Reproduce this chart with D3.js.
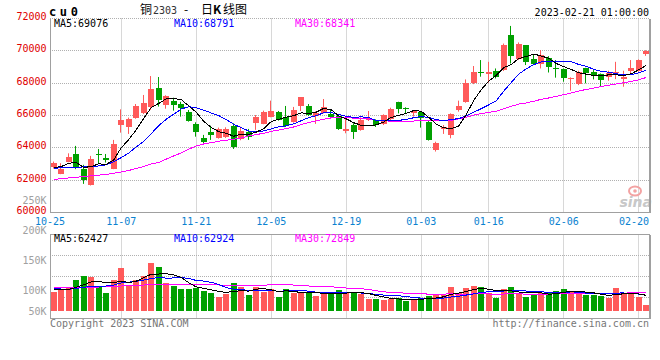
<!DOCTYPE html>
<meta charset="utf-8">
<script src="https://d3js.org/d3.v7.min.js"></script>
<style>
  body { margin: 0; background: #fff; }
  text { font-family: "DejaVu Sans Mono", monospace; font-size: 10px; }
  .grid { stroke: #b0b0b0; stroke-dasharray: 1,1; fill: none; }
  .frame { stroke: #a0a0a0; fill: none; shape-rendering: crispEdges; }
  .ma { fill: none; stroke-width: 1; shape-rendering: crispEdges; }
</style>
<body>
<script>
// trading days shown (10-25 .. 02-21)
var dates = ["10-25","10-26","10-27","10-28","10-31","11-01","11-02","11-03","11-04",
  "11-07","11-08","11-09","11-10","11-11","11-14","11-15","11-16","11-17","11-18",
  "11-21","11-22","11-23","11-24","11-25","11-28","11-29","11-30","12-01","12-02",
  "12-05","12-06","12-07","12-08","12-09","12-12","12-13","12-14","12-15","12-16",
  "12-19","12-20","12-21","12-22","12-23","12-26","12-27","12-28","12-29","12-30",
  "01-03","01-04","01-05","01-06","01-09","01-10","01-11","01-12","01-13",
  "01-16","01-17","01-18","01-19","01-20","01-30","01-31","02-01","02-02","02-03",
  "02-06","02-07","02-08","02-09","02-10","02-13","02-14","02-15","02-16","02-17",
  "02-20","02-21"];

var open = [62840,62390,63130,63620,62680,61710,63620,63380,62700,65410,
  65310,65870,66180,66500,67700,66630,66920,66710,66240,65460,
  64630,65000,64630,64650,65370,64530,65000,65560,65480,65930,
  66220,65890,65600,66590,66590,65970,66180,66090,65970,65060,
  65410,65110,65720,65720,65480,65800,66850,66460,66180,66200,
  65620,63870,65150,64800,66340,66850,67990,68690,68540,68770,
  68810,70970,69490,70350,69490,69180,69570,68910,68850,68230,
  67920,68950,68710,68540,68360,68600,68250,68770,68750,69800];
var high = [63150,63050,63660,64120,62950,63500,63930,63620,64490,66380,
  65870,66710,67270,68440,68380,67250,67100,66850,66340,65580,
  64800,65370,65250,65270,65520,65310,65170,66030,66300,66920,
  66280,66590,66530,67140,66710,66260,67020,66340,66030,65890,
  65520,65890,66280,65760,66070,66480,66850,66510,66340,66280,
  65720,64380,65410,66130,66920,68230,69060,69430,69320,68910,
  70450,71540,70520,70350,69780,70040,69670,69430,68910,68360,
  68770,68950,68810,68600,68770,69320,68770,69430,69470,70040];
var low = [62720,62370,63110,62680,61770,61670,63010,63090,62680,64940,
  64860,65800,66090,66340,66550,66420,66300,65930,65620,64690,
  64280,64490,64570,64610,63930,64470,64490,65110,65460,65890,
  65680,65290,65560,66280,65970,65480,66130,65890,65110,64900,
  64550,65060,65660,65290,65410,65720,66130,66090,65930,65250,
  64450,63770,64860,64590,66240,66790,67940,68400,68030,68290,
  68750,69220,69430,69120,69120,68910,68660,68340,68090,67530,
  67880,67990,68230,67820,68150,68250,67780,68560,68710,69690];
var close = [63050,62680,63440,62800,61980,63290,63540,63270,64220,65720,
  65800,66570,66770,67640,66960,67200,66650,66480,65680,64980,
  64390,64800,65150,65170,64080,65040,64690,65890,66240,66280,
  65720,65370,66340,67120,66030,66180,66530,65930,65170,65150,
  64980,65740,65830,65410,66030,66400,66400,66400,66300,65830,
  64490,64320,65270,66070,66590,68030,68710,68600,68690,68400,
  70390,69690,70450,69320,69180,69740,69010,68850,68340,68290,
  68710,68600,68440,68190,68640,68710,68400,68950,69430,70020];
var volume = [78300,87800,97200,125600,143100,137700,95900,72900,125600,175500,
  105300,125600,143100,195800,179600,112100,102600,89100,89100,94500,
  82400,74300,58100,67500,113400,98600,64800,98600,78300,89100,
  58100,89100,71600,75600,75600,62100,71600,67500,85100,77000,
  74300,67500,48600,48600,44600,47300,54000,40500,44600,51300,
  62100,64800,64800,97200,74300,93200,102600,97200,71600,52700,
  89100,97200,74300,56700,64800,74300,71600,81000,89100,77000,
  71600,64800,64800,62100,52700,93200,74300,67500,58100,24300];

// moving-average values before a full window exists
var ma5Head = [62780,62840,63050,63090];
var ma10Head = [62740,62760,62780,62800,62820,62840,62880,62950,63150];
var ma30Head = [62050,62090,62140,62180,62230,62270,62310,62350,62430,62510,
  62600,62720,62840,63010,63090,63300,63500,63690,63910,64120,
  64240,64320,64410,64470,64530,64610,64740,64820,64900];
var volMa5Head = [85100,86400,87800,95900];
var volMa10Head = [91800,89100,87800,91800,95900,101300,101300,101300,105300];
var volMa30Head = [95900,95900,94500,94500,94500,95900,97200,98600,99900,101300,
  102600,104000,105300,106700,108000,108000,108000,108000,108000,106700,
  106700,106700,105300,104000,104000,104000,104000,104000,104000];

var priceTicks = [72000,70000,68000,66000,64000,62000,60000];
var volTicks = [250000,200000,150000,100000,50000];
var volTickText = ["250K","200K","150K","100K","50K"];
var dateTicks = ["10-25","11-07","11-21","12-05","12-19","01-03","01-16","02-06","02-20"];

var RED = "#ff5a5a", GREEN = "#00a000";
var L = 50, R = 649, mTop = 18.5, mBot = 212.5, vTop = 234.5, vBot = 318.5;

var svg = d3.select("body").append("svg")
  .attr("width", 660).attr("height", 360).style("display", "block");

var x = d3.scaleBand().domain(d3.range(dates.length)).range([L, 650]);
function xc(i) { return x(i) + x.bandwidth() / 2; }
var y = d3.scaleLinear().domain([60000, 72000]).range([mBot, mTop]);
var yv = d3.scaleLinear().domain([0, 310000]).range([311, 234.5]);
var yvLabel = d3.scaleLinear().domain([100000, 150000]).range([294, 264]);

function sma(vals, n, head) {
  return vals.map(function(v, i) {
    return i < n - 1 ? head[i] : d3.mean(vals.slice(i - n + 1, i + 1));
  });
}
function crisp(v) { return Math.floor(v) + 0.5; }

var tickIdx = dateTicks.map(function(d) { return dates.indexOf(d); });

// ---------- grid ----------
var g = svg.append("g");
priceTicks.slice(0, -1).forEach(function(v) {
  g.append("line").attr("class", "grid")
    .attr("x1", L).attr("x2", R).attr("y1", crisp(y(v))).attr("y2", crisp(y(v)));
});
[1, 2, 3].forEach(function(k) {
  var yy = crisp(vTop + (vBot - vTop) * k / 4);
  g.append("line").attr("class", "grid").attr("x1", L).attr("x2", R).attr("y1", yy).attr("y2", yy);
});
tickIdx.slice(1).forEach(function(i) {
  var xx = crisp(xc(i));
  if (xx >= R) return;
  g.append("line").attr("class", "grid").attr("x1", xx).attr("x2", xx).attr("y1", mTop).attr("y2", mBot);
  g.append("line").attr("class", "grid").attr("x1", xx).attr("x2", xx).attr("y1", vTop).attr("y2", vBot);
});

// sina watermark
var wm = svg.append("g");
wm.append("ellipse").attr("cx", 635).attr("cy", 191).attr("rx", 6).attr("ry", 4.5)
  .attr("fill", "none").attr("stroke", "#f3a3a3").attr("stroke-width", 2);
wm.append("circle").attr("cx", 635).attr("cy", 191).attr("r", 1.8).attr("fill", "#f3a3a3");
wm.append("text").attr("x", 652).attr("y", 207).attr("text-anchor", "end")
  .style("font-family", "'DejaVu Sans', sans-serif").style("font-size", "14px")
  .style("font-style", "italic").style("font-weight", "bold")
  .attr("fill", "#c8c8c8").text("sina");

// ---------- candles ----------
var idx = d3.range(dates.length);
var cg = svg.append("g");
cg.selectAll("line.wick").data(idx).enter().append("line")
  .attr("x1", function(i) { return Math.round(xc(i) - 3) + 2.5; })
  .attr("x2", function(i) { return Math.round(xc(i) - 3) + 2.5; })
  .attr("y1", function(i) { return y(high[i]); })
  .attr("y2", function(i) { return y(low[i]); })
  .attr("stroke", function(i) { return close[i] >= open[i] ? RED : GREEN; })
  .attr("stroke-width", 1);
cg.selectAll("rect").data(idx).enter().append("rect")
  .attr("x", function(i) { return Math.round(xc(i) - 3); })
  .attr("width", 6)
  .attr("y", function(i) { return Math.round(y(Math.max(open[i], close[i]))); })
  .attr("height", function(i) {
    return Math.max(1, Math.round(y(Math.min(open[i], close[i]))) - Math.round(y(Math.max(open[i], close[i]))));
  })
  .attr("fill", function(i) { return close[i] >= open[i] ? RED : GREEN; })
  .style("shape-rendering", "crispEdges");

var priceLine = d3.line().x(function(d, i) { return xc(i); }).y(function(d) { return y(d); });
[[sma(close, 30, ma30Head), "#ff00ff"], [sma(close, 10, ma10Head), "#0000ff"], [sma(close, 5, ma5Head), "#000"]]
  .forEach(function(s) {
    svg.append("path").attr("class", "ma").attr("d", priceLine(s[0])).attr("stroke", s[1]);
  });

// ---------- volume ----------
svg.append("g").selectAll("rect").data(idx).enter().append("rect")
  .attr("x", function(i) { return Math.round(xc(i) - 3); })
  .attr("width", 6)
  .attr("y", function(i) { return Math.round(yv(volume[i])); })
  .attr("height", function(i) { return 311 - Math.round(yv(volume[i])); })
  .attr("fill", function(i) { return close[i] >= open[i] ? RED : GREEN; })
  .style("shape-rendering", "crispEdges");

var volLine = d3.line().x(function(d, i) { return xc(i); }).y(function(d) { return yv(d); });
[[sma(volume, 30, volMa30Head), "#ff00ff"], [sma(volume, 10, volMa10Head), "#0000ff"], [sma(volume, 5, volMa5Head), "#000"]]
  .forEach(function(s) {
    svg.append("path").attr("class", "ma").attr("d", volLine(s[0])).attr("stroke", s[1]);
  });

// ---------- frames ----------
var f = svg.append("g");
f.append("line").attr("class", "frame").attr("x1", L + 0.5).attr("x2", L + 0.5).attr("y1", mTop).attr("y2", mBot);
f.append("line").attr("class", "frame").attr("x1", L).attr("x2", R + 1).attr("y1", mBot).attr("y2", mBot);
f.append("line").attr("class", "frame").attr("x1", R + 0.5).attr("x2", R + 0.5).attr("y1", mTop).attr("y2", mBot)
  .attr("stroke-width", 2);
f.append("rect").attr("class", "frame").attr("x", L + 0.5).attr("y", vTop)
  .attr("width", R - L).attr("height", vBot - vTop);
f.append("line").attr("class", "frame").attr("x1", R + 0.5).attr("x2", R + 0.5).attr("y1", vTop).attr("y2", vBot)
  .attr("stroke-width", 2);

// ---------- labels ----------
svg.selectAll("text.py").data(priceTicks).enter().append("text")
  .attr("x", 46.5).attr("y", function(v) { return y(v) + 1.5; })
  .attr("text-anchor", "end").attr("fill", "#e00000")
  .text(function(v) { return v; });

svg.selectAll("text.vy").data(volTicks).enter().append("text")
  .attr("x", 46.5).attr("y", function(v) { return Math.min(yvLabel(v), 314.5); })
  .attr("text-anchor", "end").attr("fill", "#a0a0a0")
  .text(function(v, k) { return volTickText[k]; });

svg.selectAll("text.dx").data(tickIdx).enter().append("text")
  .attr("x", function(i) { return i === 0 ? L : Math.min(xc(i), R - 15); })
  .attr("y", 225).attr("text-anchor", "middle").attr("fill", "#0a82d0")
  .text(function(i) { return dates[i]; });

svg.append("text").attr("x", 49).attr("y", 15.5)
  .style("font-size", "12px").style("font-weight", "bold").style("letter-spacing", "3.6px")
  .text("cu0");

var title = svg.append("text").attr("y", 14).style("font-family", "'Noto Sans CJK SC', sans-serif")
  .style("font-size", "12px");
title.append("tspan").attr("x", 140).text("铜");
title.append("tspan").attr("x", 153).style("font-family", "'DejaVu Sans Mono', monospace")
  .style("font-size", "10px").attr("fill", "#333").text("2303");
title.append("tspan").attr("x", 184).text("-");
title.append("tspan").attr("x", 201).text("日");
title.append("tspan").attr("x", 213).style("font-weight", "bold").text("K");
title.append("tspan").attr("x", 223).text("线图");

svg.append("text").attr("x", 649).attr("y", 15.5).attr("text-anchor", "end")
  .text("2023-02-21 01:00:00");

function maLabels(yy, texts) {
  [[54, "#000"], [174, "#0000ff"], [295, "#ff00ff"]].forEach(function(p, k) {
    svg.append("text").attr("x", p[0]).attr("y", yy).attr("fill", p[1]).text(texts[k]);
  });
}
maLabels(27, ["MA5:69076", "MA10:68791", "MA30:68341"]);
maLabels(242, ["MA5:62427", "MA10:62924", "MA30:72849"]);

svg.append("text").attr("x", 50).attr("y", 327).attr("fill", "#777").text("Copyright 2023 SINA.COM");
svg.append("text").attr("x", 649).attr("y", 327).attr("text-anchor", "end").attr("fill", "#777")
  .text("http://finance.sina.com.cn");
</script>
</body>
